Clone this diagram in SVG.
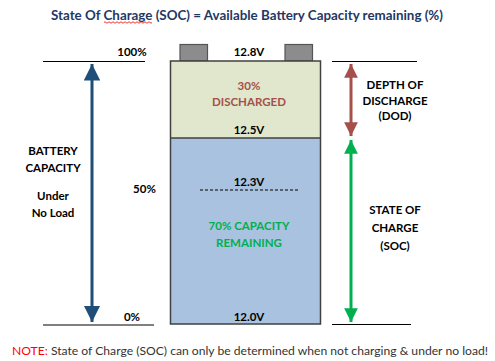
<svg xmlns="http://www.w3.org/2000/svg" width="495" height="361" viewBox="0 0 495 361">
<style>
text{font-family:Lato,"Liberation Sans",sans-serif;font-weight:bold;font-size:11.5px;text-anchor:middle;fill:#000}
.red{fill:#a5504a}
.grn{fill:#00b050}
.ln{stroke:#000;stroke-width:1}
</style>
<defs>
<marker id="hb" viewBox="0 0 10 10" refX="10" refY="5" markerWidth="5.5" markerHeight="5.5" markerUnits="strokeWidth" orient="auto-start-reverse"><path d="M0,0L10,5L0,10z" fill="#1f4e79"/></marker>
<marker id="hr" viewBox="0 0 10 10" refX="10" refY="5" markerWidth="5" markerHeight="4.6" markerUnits="strokeWidth" orient="auto-start-reverse"><path d="M0,0L10,5L0,10z" fill="#a5504a"/></marker>
<marker id="hg" viewBox="0 0 10 10" refX="10" refY="5" markerWidth="5" markerHeight="4.6" markerUnits="strokeWidth" orient="auto-start-reverse"><path d="M0,0L10,5L0,10z" fill="#00b050"/></marker>
</defs>
<text x="247" y="20" style="font-size:13px;fill:#1f3864" textLength="392" lengthAdjust="spacingAndGlyphs">State Of Charage (SOC) = Available Battery Capacity remaining (%)</text>
<path d="M104,22.5 q1,-1.5 2,0 t2,0 t2,0 t2,0 t2,0 t2,0 t2,0 t2,0 t2,0 t2,0 t2,0 t2,0 t2,0 t2,0 t2,0 t2,0 t2,0 t2,0 t2,0 t2,0 t2,0 t2,0 t2,0 t2,0" fill="none" stroke="#e00" stroke-width="0.8"/>
<g id="battery">
<rect x="180" y="44.5" width="27.5" height="16.5" fill="#8c8c8c" stroke="#555" stroke-width="1.2"/>
<rect x="285" y="44.5" width="27.5" height="16.5" fill="#8c8c8c" stroke="#555" stroke-width="1.2"/>
<rect x="170.5" y="61" width="150" height="77" fill="#e0e7cd"/>
<rect x="170.5" y="138" width="150" height="186" fill="#a8c2df"/>
<rect x="170.5" y="61" width="150" height="263" fill="none" stroke="#404040" stroke-width="1.5"/>
<line x1="170.5" y1="138" x2="320.5" y2="138" stroke="#404040" stroke-width="1.5"/>
<line x1="200" y1="190" x2="300" y2="190" stroke="#000" stroke-width="1" stroke-dasharray="3,2"/>
</g>
<g id="levels">
<line class="ln" x1="43" y1="61.5" x2="145" y2="61.5"/>
<line class="ln" x1="43" y1="325" x2="154" y2="325"/>
<line class="ln" x1="332" y1="61.5" x2="417" y2="61.5"/>
<line class="ln" x1="332" y1="324.5" x2="411" y2="324.5"/>
</g>
<g id="connectors">
<line x1="92" y1="64" x2="92" y2="322" stroke="#1f4e79" stroke-width="3" marker-start="url(#hb)" marker-end="url(#hb)"/>
<line x1="351" y1="64" x2="351" y2="136" stroke="#a5504a" stroke-width="3" marker-start="url(#hr)" marker-end="url(#hr)"/>
<line x1="351" y1="140" x2="351" y2="322" stroke="#00b050" stroke-width="3" marker-start="url(#hg)" marker-end="url(#hg)"/>
</g>
<g id="labels">
<text x="132" y="56">100%</text>
<text x="249" y="56">12.8V</text>
<text class="red" x="249" y="90">30%</text>
<text class="red" x="249" y="106">DISCHARGED</text>
<text x="249" y="134">12.5V</text>
<text x="249" y="186">12.3V</text>
<text x="144.5" y="193">50%</text>
<text class="grn" x="249" y="230">70% CAPACITY</text>
<text class="grn" x="249" y="247">REMAINING</text>
<text x="249" y="321">12.0V</text>
<text x="132" y="321">0%</text>
<text x="53" y="155">BATTERY</text>
<text x="53" y="172">CAPACITY</text>
<text x="53" y="200">Under</text>
<text x="53" y="217">No Load</text>
<text x="395" y="89">DEPTH OF</text>
<text x="395" y="105">DISCHARGE</text>
<text x="395" y="120">(DOD)</text>
<text x="395" y="214">STATE OF</text>
<text x="395" y="232">CHARGE</text>
<text x="395" y="250">(SOC)</text>
</g>
<text x="250" y="355" style="font-weight:normal;font-size:11.5px;fill:#333" textLength="476" lengthAdjust="spacingAndGlyphs"><tspan fill="#ff0000">NOTE:</tspan> State of Charge (SOC) can only be determined when not charging &amp; under no load!</text>
</svg>
